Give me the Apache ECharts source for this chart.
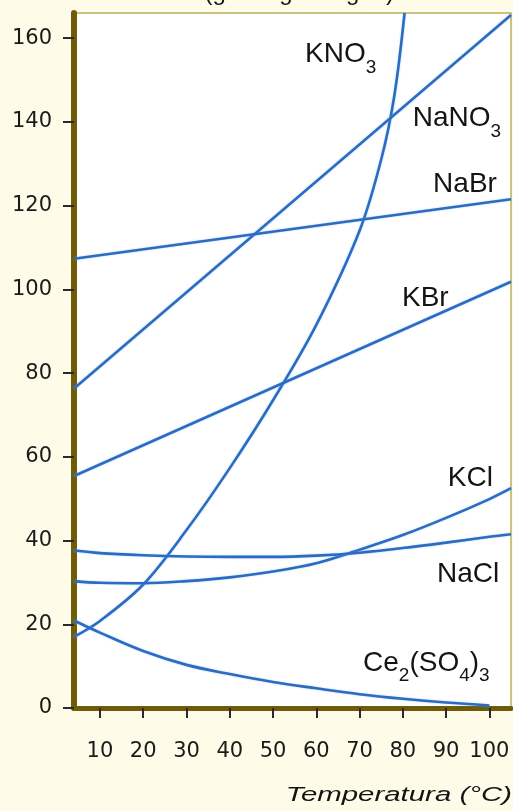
<!DOCTYPE html>
<html><head><meta charset="utf-8">
<script src="https://cdn.jsdelivr.net/npm/echarts@6/dist/echarts.min.js"></script>
<style>html,body{margin:0;padding:0;background:#fefce9;}#c{width:513px;height:811px;}</style>
</head><body><div id="c"></div>
<script>
// ---- tick labels ----
const xTicks = [10, 20, 30, 40, 50, 60, 70, 80, 90, 100];
const yTicks = [0, 20, 40, 60, 80, 100, 120, 140, 160];

// ---- series values (temperature °C -> solubility g/100 g water) ----
const tempKNO3 = [4, 10, 20, 30, 40, 50, 60, 70, 75, 78, 80.4];
const solKNO3  = [17.0, 20.8, 29.5, 42.5, 57.3, 73.5, 91.5, 114, 131, 146, 166];

const tempNaNO3 = [4, 105];
const solNaNO3  = [76.3, 165.5];

const tempNaBr = [4, 105];
const solNaBr  = [107.3, 121.5];

const tempKBr = [4, 105];
const solKBr  = [55.4, 101.8];

const tempKCl = [4, 10, 20, 30, 40, 50, 60, 70, 80, 90, 100, 105];
const solKCl  = [30.3, 29.9, 29.8, 30.3, 31.2, 32.6, 34.6, 37.8, 41.3, 45.4, 49.9, 52.5];

const tempNaCl = [4, 10, 20, 30, 40, 50, 60, 70, 80, 90, 100, 105];
const solNaCl  = [37.6, 37.0, 36.5, 36.2, 36.1, 36.1, 36.4, 37.1, 38.2, 39.5, 40.9, 41.5];

const tempCe = [4, 10, 20, 30, 40, 50, 60, 70, 80, 90, 100];
const solCe  = [20.9, 18.0, 13.6, 10.3, 8.1, 6.2, 4.7, 3.3, 2.2, 1.3, 0.6];

// ---- label texts and their anchors (data units) ----
const labelTexts = ['KNO{s|3}', 'NaNO{s|3}', 'NaBr', 'KBr', 'KCl', 'NaCl', 'Ce{s|2}(SO{s|4}){s|3}'];
const labelAnchors = [[57.4, 156.1], [82.3, 140.8], [87.0, 125.2], [79.8, 97.9], [90.4, 54.8], [87.9, 32.0], [70.8, 10.8]];

const xTitle = 'Temperatura (°C)';
const yTitle = 'Solubilidad (g/100 g de agua)';

const seriesList = [
  [tempKNO3, solKNO3], [tempNaNO3, solNaNO3], [tempNaBr, solNaBr], [tempKBr, solKBr],
  [tempKCl, solKCl], [tempNaCl, solNaCl], [tempCe, solCe]
];
const seriesNames = ['KNO3', 'NaNO3', 'NaBr', 'KBr', 'KCl', 'NaCl', 'Ce2(SO4)3'];

const chart = echarts.init(document.getElementById('c'));
const axisColor = '#6f5c08';
const font = 'Liberation Sans';
const tickFont = 'DejaVu Sans';

chart.setOption({
  backgroundColor: '#fefce9',
  animation: false,
  grid: { left: 74, right: 2, top: 13, bottom: 103, show: true, backgroundColor: '#ffffff', borderColor: '#bcae5c', borderWidth: 1.5 },
  xAxis: {
    type: 'value', min: 4, max: 105,
    axisLine: { show: true, onZero: false, lineStyle: { color: axisColor, width: 5 } },
    axisTick: { show: true, customValues: xTicks, length: 10, lineStyle: { color: '#2a2a2a', width: 2 } },
    axisLabel: { customValues: xTicks, margin: 33, fontSize: 21, fontFamily: tickFont, color: '#1a1a1a' },
    splitLine: { show: false }
  },
  yAxis: {
    type: 'value', min: 0, max: 166,
    axisLine: { show: true, onZero: false, lineStyle: { color: axisColor, width: 6 } },
    axisTick: { show: true, customValues: yTicks, length: 11, lineStyle: { color: '#2a2a2a', width: 2 } },
    axisLabel: { customValues: yTicks, margin: 22, fontSize: 21, fontFamily: tickFont, color: '#1a1a1a' },
    splitLine: { show: false }
  },
  series: seriesList.map((p, i) => ({
    name: seriesNames[i],
    type: 'line',
    smooth: 0.35,
    showSymbol: false,
    z: 1,
    lineStyle: { color: '#2d6bc0', width: 2.6, shadowColor: 'rgba(110,180,255,0.55)', shadowBlur: 2 },
    data: p[0].map((t, j) => [t, p[1][j]])
  }))
});

const rich = { s: { fontSize: 19, fontFamily: font, lineHeight: 20, padding: [26, 0, 0, 0], fill: '#141414' } };
const graphics = labelTexts.map((txt, i) => {
  const pt = chart.convertToPixel({ gridIndex: 0 }, labelAnchors[i]);
  return {
    type: 'text', x: pt[0], y: pt[1], z: 10,
    style: { text: txt, rich: rich, font: '28px "Liberation Sans"', fill: '#141414', align: 'left', verticalAlign: 'middle' }
  };
});
graphics.push({
  type: 'text', x: 512, y: 795.5, scaleX: 1.47, z: 10,
  style: { text: xTitle, font: 'italic 20px "Liberation Sans"', fill: '#141414', align: 'right', verticalAlign: 'middle' }
});
graphics.push({
  type: 'text', x: 394, y: 5, z: 10,
  style: { text: yTitle, font: '24px "Liberation Sans"', fill: '#141414', align: 'right', verticalAlign: 'bottom' }
});
chart.setOption({ graphic: graphics });
</script>
</body></html>
